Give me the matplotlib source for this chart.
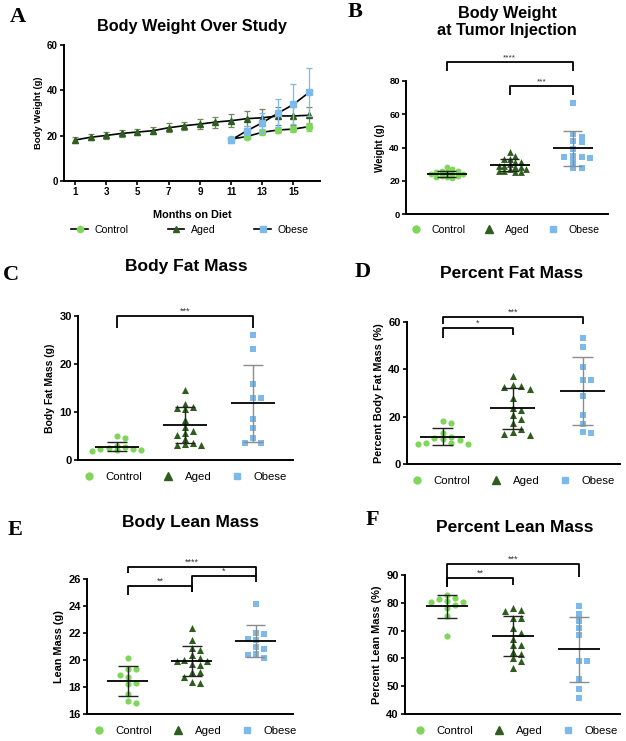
import matplotlib
matplotlib.use("Agg")
import matplotlib.pyplot as plt
from matplotlib.lines import Line2D
import numpy as np

plt.rcParams['font.family'] = ['Liberation Sans', 'DejaVu Sans']

# couleurs des groupes
c_ctrl = '#7fd65a'
c_aged = '#2f5d1f'
c_obese = '#7db9ea'
groups = ['Control', 'Aged', 'Obese']

# ---- A : poids au cours de l'etude
months = list(range(1, 17))
aged_bw = [18.1, 19.3, 20.1, 21.0, 21.6, 22.2, 23.5, 24.4, 25.1, 26.0, 26.6, 27.5, 27.9, 28.7, 28.7, 29.0]
aged_bw_sd = [1.4, 1.4, 1.5, 1.5, 1.3, 1.5, 1.9, 1.8, 2.1, 2.4, 2.8, 3.4, 3.7, 3.8, 3.8, 3.8]
late_months = [11, 12, 13, 14, 15, 16]
control_bw = [18.5, 19.6, 21.5, 22.5, 22.9, 24.0]
control_bw_sd = [1.0, 1.2, 1.4, 1.3, 1.5, 1.8]
obese_bw = [18.1, 22.1, 25.7, 29.9, 33.8, 39.1]
obese_bw_sd = [1.2, 2.0, 4.5, 6.1, 8.8, 10.6]

# ---- B : poids a l'injection
b_ctrl = [28, 27, 26, 26, 25, 25, 24, 24, 24, 23, 23, 22.5, 22, 21.5]
b_aged = [37, 35, 33, 33, 31, 31, 30, 29, 29, 28, 28, 27, 27, 26, 26, 25, 25]
b_obese = [66.6, 46.5, 43.5, 47.9, 44.1, 38.9, 34.1, 35.1, 33.5, 34.1, 27.9, 27.9, 31.5]
b_mean = [24.0, 29.5, 39.5]
b_sd = [1.6, 3.4, 10.6]

# ---- C : masse grasse
c_ctrl_v = [4.5, 5.1, 3.0, 2.8, 2.5, 2.3, 2.1, 2.0, 1.9, 2.2]
c_aged_v = [14.6, 11.6, 11.0, 10.8, 10.6, 8.3, 6.8, 6.0, 5.6, 5.3, 4.4, 3.6, 3.3, 3.1, 3.2]
c_obese_v = [26.0, 23.1, 15.8, 13.0, 13.0, 8.5, 6.7, 4.5, 3.6, 3.6]
c_mean = [2.8, 7.3, 11.8]
c_sd = [1.0, 3.7, 8.0]

# ---- D : pourcentage de masse grasse
d_ctrl_v = [18.3, 17.5, 13.2, 11.5, 10.4, 10.1, 9.0, 8.7, 8.4, 8.4, 11.0]
d_aged_v = [37.2, 33.0, 32.4, 33.4, 31.6, 27.8, 22.8, 23.5, 18.9, 20.7, 17.2, 14.8, 12.7, 13.6, 12.3]
d_obese_v = [53.1, 49.6, 40.8, 35.5, 35.5, 28.9, 20.7, 16.9, 13.0, 13.6]
d_mean = [11.6, 23.5, 30.8]
d_sd = [3.6, 8.5, 14.5]

# ---- E : masse maigre
e_ctrl_v = [20.13, 19.33, 19.33, 18.89, 18.72, 18.27, 18.22, 17.48, 16.96, 16.84]
e_aged_v = [22.35, 21.48, 20.74, 20.91, 20.37, 19.68, 19.93, 20.13, 19.95, 20.0, 19.13, 19.09, 19.63, 18.76, 18.27, 18.35]
e_obese_v = [24.15, 21.97, 21.9, 21.48, 21.53, 20.99, 20.81, 20.42, 20.37, 20.17]
e_mean = [18.45, 19.93, 21.4]
e_sd = [1.08, 1.13, 1.17]

# ---- F : pourcentage de masse maigre
f_ctrl_v = [82.8, 81.8, 79.2, 80.4, 81.3, 80.6, 80.4, 78.0, 75.4, 68.2]
f_aged_v = [77.4, 78.2, 77.2, 74.4, 74.4, 71.0, 69.0, 67.0, 64.8, 64.8, 62.4, 61.5, 60.0, 59.1, 56.4]
f_obese_v = [79.0, 75.9, 73.5, 70.8, 68.4, 59.1, 59.1, 52.6, 48.9, 45.6]
f_mean = [78.7, 68.1, 63.3]
f_sd = [4.2, 7.2, 11.7]

W, H = 626, 741
fig = plt.figure(figsize=(W / 100, H / 100), dpi=100)


def px_axes(l, t, r, b):
    return fig.add_axes([l / W, 1 - b / H, (r - l) / W, (b - t) / H])


def style(ax, fs):
    for s in ['top', 'right']:
        ax.spines[s].set_visible(False)
    for s in ['left', 'bottom']:
        ax.spines[s].set_linewidth(1.4)
    ax.tick_params(direction='out', length=3, width=1.2, labelsize=fs, pad=1.5)
    for lab in ax.get_yticklabels() + ax.get_xticklabels():
        lab.set_fontweight('bold')


def swarm(vals, ygap, step):
    vals = np.asarray(vals, dtype=float)
    order = np.argsort(vals)[::-1]
    offs = np.zeros(len(vals))
    placed = []
    for i in order:
        v = vals[i]
        x = 0.0
        for k in [0, 1, -1, 2, -2, 3, -3, 4, -4, 5, -5]:
            x = k * step
            if all(abs(x - px) > step * 0.5 or abs(v - py) >= ygap for px, py in placed):
                break
        offs[i] = x
        placed.append((x, v))
    return offs


def dot_panel(ax, data, means, sds, ylim, yticks, ygap, xlim, ylabel, fs, lfs,
              ms=(20, 26, 14), steps=(0.12, 0.12, 0.12)):
    marks = ['o', '^', 's']
    cols = [c_ctrl, c_aged, c_obese]
    ecols = ['#222222', '#222222', '#8c8c8c']
    for i, vals in enumerate(data):
        offs = swarm(vals, ygap, steps[i])
        ax.scatter(i + offs, vals, marker=marks[i], s=ms[i], color=cols[i],
                   linewidths=0, zorder=3, clip_on=False)
        m, sd = means[i], sds[i]
        ax.vlines(i, m - sd, m + sd, color=ecols[i], lw=1.0, zorder=4)
        ax.hlines([m - sd, m + sd], i - 0.15, i + 0.15, color=ecols[i], lw=1.0, zorder=4)
        ax.hlines(m, i - 0.32, i + 0.32, color='black', lw=1.3, zorder=5)
    ax.set_xlim(*xlim)
    ax.set_ylim(*ylim)
    ax.set_yticks(yticks)
    ax.set_xticks([])
    ax.set_ylabel(ylabel, fontsize=lfs, fontweight='bold', labelpad=3)
    style(ax, fs)


def dot_legend(ax, cx, cy, fs):
    hs = [Line2D([], [], ls='none', marker='o', color=c_ctrl, ms=5),
          Line2D([], [], ls='none', marker='^', color=c_aged, ms=5.5),
          Line2D([], [], ls='none', marker='s', color=c_obese, ms=4)]
    ax.legend(hs, groups, ncol=3, frameon=False, loc='center', fontsize=fs,
              bbox_to_anchor=(cx / W, 1 - cy / H), bbox_transform=fig.transFigure,
              handlelength=1, handletextpad=1.0, columnspacing=1.7, borderpad=0)


def bracket(ax, x1, x2, y, y1, y2, txt, fs=6.5):
    ax.plot([x1, x1, x2, x2], [y1, y, y, y2], color='black', lw=1.3, clip_on=False,
            solid_capstyle='butt', zorder=6)
    ax.annotate(txt, xy=((x1 + x2) / 2, y), xytext=(0, 0.3), textcoords='offset points',
                ha='center', va='bottom', fontsize=fs, color='#333333', annotation_clip=False)


def titre(x, y, txt, fs=12):
    fig.text(x / W, 1 - y / H, txt, ha='center', va='center', fontsize=fs,
             fontweight='bold', linespacing=1.15)


def lettre(x, y, txt):
    fig.text(x / W, 1 - y / H, txt, ha='center', va='center', fontsize=16,
             fontweight='bold', family='Liberation Serif')


# ---------------- A
axA = px_axes(64, 45, 320, 181)
axA.errorbar(months, aged_bw, yerr=aged_bw_sd, color='black', lw=1.2, marker='^',
             mfc=c_aged, mec=c_aged, ms=4.5, ecolor='#6e8a5e', elinewidth=0.9,
             capsize=2.5, capthick=0.9, zorder=3)
axA.errorbar(late_months, control_bw, yerr=control_bw_sd, color='black', lw=1.2, marker='o',
             mfc=c_ctrl, mec=c_ctrl, ms=4.5, ecolor=c_ctrl, elinewidth=0.9,
             capsize=2.5, capthick=0.9, zorder=4)
axA.errorbar(late_months, obese_bw, yerr=obese_bw_sd, color='black', lw=1.2, marker='s',
             mfc=c_obese, mec=c_obese, ms=5, ecolor=c_obese, elinewidth=0.9,
             capsize=2.5, capthick=0.9, zorder=5)
axA.set_xlim(0.29, 16.7)
axA.set_ylim(0, 60)
axA.set_yticks([0, 20, 40, 60])
axA.set_xticks(range(1, 16, 2))
axA.set_xlabel('Months on Diet', fontsize=7.8, fontweight='bold', labelpad=9)
axA.set_ylabel('Body Weight (g)', fontsize=6.8, fontweight='bold', labelpad=3)
style(axA, 7)
hA = [Line2D([], [], color='black', lw=1.2, marker='o', mfc=c_ctrl, mec=c_ctrl, ms=4.5),
      Line2D([], [], color='black', lw=1.2, marker='^', mfc=c_aged, mec=c_aged, ms=4.5),
      Line2D([], [], color='black', lw=1.2, marker='s', mfc=c_obese, mec=c_obese, ms=5)]
axA.legend(hA, groups, ncol=3, frameon=False, loc='center', fontsize=7.6,
           bbox_to_anchor=(190 / W, 1 - 230 / H), bbox_transform=fig.transFigure,
           handlelength=1.6, handletextpad=0.6, columnspacing=3.7, borderpad=0)
titre(192, 27, 'Body Weight Over Study', 11.7)
lettre(18, 17, 'A')

# ---------------- B
axB = px_axes(406, 81, 608, 214)
dot_panel(axB, [b_ctrl, b_aged, b_obese], b_mean, b_sd, (0, 80), [0, 20, 40, 60, 80],
          2.2, (-0.65, 2.56), 'Weight (g)', 6.8, 7, ms=(18, 24, 13),
          steps=(0.085, 0.085, 0.14))
bracket(axB, 0, 2, 91.6, 86, 86, '****', 6)
bracket(axB, 1, 2, 77, 71.6, 71.6, '***', 6)
dot_legend(axB, 505, 230, 7.6)
titre(507, 22, 'Body Weight\nat Tumor Injection', 11.7)
lettre(355, 12, 'B')

# ---------------- C
axC = px_axes(78, 316, 293, 460)
dot_panel(axC, [c_ctrl_v, c_aged_v, c_obese_v], c_mean, c_sd, (0, 30), [0, 10, 20, 30],
          0.9, (-0.57, 2.59), 'Body Fat Mass (g)', 8, 7.5)
bracket(axC, 0, 2, 29.9, 27.6, 27.6, '***')
dot_legend(axC, 185, 477, 8.2)
titre(186, 267, 'Body Fat Mass', 12.5)
lettre(11, 275, 'C')

# ---------------- D
axD = px_axes(407, 322, 620, 464)
dot_panel(axD, [d_ctrl_v, d_aged_v, d_obese_v], d_mean, d_sd, (0, 60), [0, 20, 40, 60],
          2.6, (-0.51, 2.53), 'Percent Body Fat Mass (%)', 8, 7.8)
bracket(axD, 0, 2, 62.2, 59.1, 59.1, '***')
bracket(axD, 0, 1, 57.3, 53.1, 54.5, '*')
dot_legend(axD, 513, 481, 8.2)
titre(512, 273, 'Percent Fat Mass', 12.5)
lettre(363, 272, 'D')

# ---------------- E
axE = px_axes(87, 579, 293, 714)
dot_panel(axE, [e_ctrl_v, e_aged_v, e_obese_v], e_mean, e_sd, (16, 26), [16, 18, 20, 22, 24, 26],
          0.45, (-0.64, 2.58), 'Lean Mass (g)', 8, 7.8)
bracket(axE, 0, 2, 26.9, 26.47, 26.2, '****')
bracket(axE, 1, 2, 26.2, 25.06, 25.8, '*')
bracket(axE, 0, 1, 25.48, 24.8, 25.06, '**')
dot_legend(axE, 195, 731, 8.2)
titre(190, 523, 'Body Lean Mass', 12.5)
lettre(15, 530, 'E')

# ---------------- F
axF = px_axes(405, 575, 620, 714)
dot_panel(axF, [f_ctrl_v, f_aged_v, f_obese_v], f_mean, f_sd, (40, 90), [40, 50, 60, 70, 80, 90],
          2.2, (-0.64, 2.62), 'Percent Lean Mass (%)', 8, 7.8)
bracket(axF, 0, 2, 94.0, 85.7, 89.2, '***')
bracket(axF, 0, 1, 88.8, 85.7, 86.4, '**')
dot_legend(axF, 516, 731, 8.2)
titre(515, 527, 'Percent Lean Mass', 12.5)
lettre(372, 520, 'F')

plt.savefig('out.png', dpi=100)
